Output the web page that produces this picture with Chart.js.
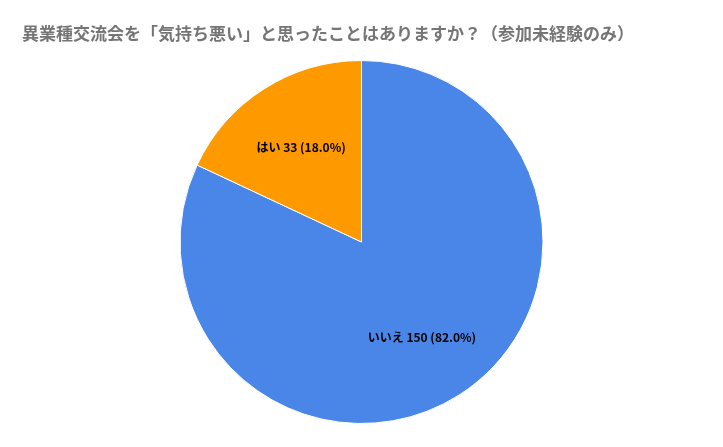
<!DOCTYPE html>
<html>
<head>
<meta charset="utf-8">
<script src="https://cdn.jsdelivr.net/npm/chart.js@4"></script>
<style>
  html, body { margin: 0; padding: 0; background: #fff; }
  #wrap { width: 723px; height: 447px; }
</style>
</head>
<body>
<div id="wrap"><canvas id="chart"></canvas></div>
<script>
const titleText = '異業種交流会を「気持ち悪い」と思ったことはありますか？（参加未経験のみ）';
const labels = ['いいえ', 'はい'];
const values = [150, 33];
const colors = ['#4a86e8', '#ff9900'];

const total = values.reduce((a, b) => a + b, 0);

// title + slice labels
const overlay = {
    id: 'overlay',
    afterDraw(chart) {
        const ctx = chart.ctx;
        ctx.save();
        ctx.fillStyle = '#757575';
        ctx.font = 'bold 17px "Noto Sans CJK JP", sans-serif';
        ctx.textBaseline = 'middle';
        ctx.textAlign = 'left';
        ctx.fillText(titleText, 22, 34);

        const meta = chart.getDatasetMeta(0);
        ctx.font = 'bold 12px "Noto Sans CJK JP", Arial, sans-serif';
        ctx.fillStyle = '#000';
        ctx.textAlign = 'center';
        meta.data.forEach((arc, i) => {
            const mid = (arc.startAngle + arc.endAngle) / 2;
            const r = arc.outerRadius * 0.62;
            const x = arc.x + Math.cos(mid) * r;
            const y = arc.y + Math.sin(mid) * r;
            const pct = (values[i] / total * 100).toFixed(1);
            ctx.fillText(`${labels[i]} ${values[i]} (${pct}%)`, x, y);
        });
        ctx.restore();
    }
};

new Chart(document.getElementById('chart'), {
    type: 'pie',
    data: {
        labels: labels,
        datasets: [{
            data: values,
            backgroundColor: colors,
            borderColor: '#fff',
            borderWidth: 1
        }]
    },
    options: {
        responsive: true,
        maintainAspectRatio: false,
        animation: false,
        layout: { padding: { top: 60, bottom: 23 } },
        plugins: {
            legend: { display: false },
            tooltip: { enabled: false }
        }
    },
    plugins: [overlay]
});
</script>
</body>
</html>
